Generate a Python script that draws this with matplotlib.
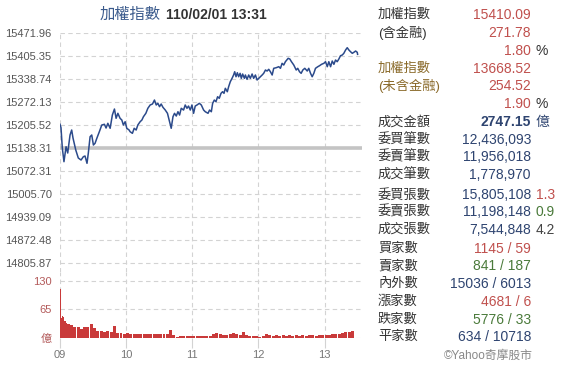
import matplotlib
matplotlib.use("Agg")
import matplotlib.pyplot as plt

plt.rcParams['font.family'] = ['Liberation Sans', 'Noto Sans CJK TC', 'DejaVu Sans']

# minutos desde las 09:00 y valor del índice
precio_t = [0, 0.9, 2.1, 3.6, 5.5, 7.0, 9.1, 10.6, 11.8, 14.3, 16.6, 19.1, 21.2, 22.7, 24.5, 25.7,
            27.3, 28.8, 30.3, 31.8, 33.4, 35.7, 37.9, 40.3, 41.8, 43.4, 45.5, 47.5, 49.4, 50.9,
            52.5, 54.5, 56.1, 57.5, 59.1, 60.6, 62.7, 63.6, 65.7, 67.3, 69.1, 70.6, 72.7, 74.3,
            75.7, 77.9, 79.7, 81.8, 83.9, 85.7, 87.3, 88.8, 90.3, 91.8, 93.4, 95.5, 97.5, 99.4,
            100.9, 102.5, 103.9, 105.5, 107.0, 108.5, 110.0, 112.1, 113.6, 115.2, 116.6, 118.2,
            119.7, 121.2, 122.7, 124.3, 126.4, 128.2, 130.3, 131.8, 134.3, 135.7, 137.3, 138.5,
            140.0, 141.5, 143.0, 144.5, 146.1, 147.5, 148.8, 150.0, 151.8, 153.0, 154.5, 156.1,
            157.5, 158.5, 159.7, 160.9, 162.1, 163.4, 164.5, 165.7, 167.3, 168.2, 169.7, 171.2,
            172.7, 174.3, 175.7, 177.3, 178.8, 180.3, 181.8, 183.4, 184.8, 186.4, 187.9, 189.4,
            190.9, 192.5, 193.9, 196.1, 198.5, 200.0, 201.5, 203.0, 204.5, 207.0, 208.5, 210.0,
            212.1, 214.3, 215.7, 217.3, 218.8, 220.3, 222.1, 224.3, 225.7, 227.3, 228.8, 230.3,
            231.8, 233.9, 235.5, 237.3, 239.4, 240.9, 242.5, 243.9, 245.5, 247.0, 248.5, 250.0,
            251.5, 253.0, 254.5, 256.1, 257.5, 259.1, 260.6, 262.1, 263.6, 265.2, 266.6, 268.2,
            269.7, 270]
precio_v = [15207.1, 15197.2, 15138.3, 15098.6, 15142.1, 15123.8, 15176.0, 15190.5, 15167.3,
            15132.5, 15109.3, 15103.5, 15113.1, 15115.1, 15093.9, 15123.8, 15171.1, 15176.0,
            15147.0, 15151.9, 15166.4, 15185.6, 15205.0, 15207.1, 15196.3, 15210.0, 15195.5,
            15234.0, 15251.4, 15224.5, 15239.0, 15224.5, 15219.5, 15205.0, 15214.6, 15195.5,
            15190.5, 15185.6, 15180.9, 15195.5, 15190.5, 15205.0, 15214.6, 15219.5, 15229.1,
            15239.0, 15253.5, 15263.1, 15266.0, 15277.5, 15263.1, 15268.0, 15258.1, 15266.0,
            15256.4, 15248.5, 15239.0, 15214.6, 15195.5, 15229.1, 15239.0, 15231.1, 15243.6,
            15234.0, 15253.5, 15248.5, 15263.1, 15253.5, 15260.1, 15248.5, 15263.1, 15239.0,
            15260.1, 15263.1, 15268.0, 15263.1, 15248.5, 15243.6, 15239.0, 15248.5, 15243.6,
            15268.0, 15277.5, 15272.6, 15287.1, 15282.5, 15297.0, 15301.6, 15297.0, 15311.5,
            15301.6, 15316.1, 15330.6, 15340.5, 15350.1, 15359.6, 15345.1, 15356.7, 15345.1,
            15355.0, 15340.5, 15353.0, 15340.5, 15350.1, 15337.6, 15350.1, 15340.5, 15353.0,
            15340.5, 15350.1, 15335.6, 15340.5, 15345.1, 15350.1, 15355.0, 15364.6, 15361.7,
            15366.6, 15359.6, 15350.1, 15369.5, 15371.2, 15374.2, 15369.5, 15384.0, 15379.1,
            15388.7, 15398.5, 15396.5, 15388.7, 15379.1, 15364.6, 15369.5, 15359.6, 15355.0,
            15364.6, 15369.5, 15361.7, 15369.5, 15355.0, 15345.1, 15355.0, 15369.5, 15374.2,
            15377.1, 15381.1, 15384.0, 15388.7, 15374.2, 15388.7, 15374.2, 15390.7, 15381.1,
            15393.6, 15388.7, 15396.5, 15406.1, 15408.1, 15413.0, 15422.6, 15429.3, 15422.6,
            15417.7, 15413.0, 15415.9, 15419.7, 15415.9, 15410.09]
cierre_anterior = 15138.31

y_ticks = [15471.96, 15405.35, 15338.74, 15272.13, 15205.52, 15138.31,
           15072.31, 15005.70, 14939.09, 14872.48, 14805.87]
y_labels = ['15471.96', '15405.35', '15338.74', '15272.13', '15205.52', '15138.31',
            '15072.31', '15005.70', '14939.09', '14872.48', '14805.87']

# volumen (億): primeros minutos, luego bloques de 3 minutos desde 09:06, y el cierre 13:30
vol_apertura = [112, 45, 50, 48, 38, 35]
vol_3min = [33, 30, 26, 24, 20, 26, 25, 32, 22, 16, 15, 14, 17, 14, 28, 12, 11, 10, 11, 9,
            10, 8, 9, 10, 9, 8, 10, 9, 8, 10, 8, 18, 6, 3, 4, 5, 4, 5, 4, 4, 5, 4, 5, 4,
            9, 11, 8, 6, 7, 10, 11, 8, 6, 14, 6, 5, 4, 4, 3, 5, 10, 6, 5, 7, 5, 6, 5, 6,
            5, 6, 5, 6, 5, 6, 6, 5, 6, 6, 6, 7, 8, 9, 10, 12, 13, 14, 15]
vol_cierre = 125

horas = [0, 60, 120, 180, 240]
horas_txt = ['09', '10', '11', '12', '13']

panel = [
    ('加權指數', '15410.09', '#c0504d', '', '', '#333333'),
    ('(含金融)', '271.78', '#c0504d', '', '', '#333333'),
    ('', '1.80', '#c0504d', '%', '#333333', '#333333'),
    ('加權指數', '13668.52', '#c0504d', '', '', '#8a6a2a'),
    ('(未含金融)', '254.52', '#c0504d', '', '', '#8a6a2a'),
    ('', '1.90', '#c0504d', '%', '#333333', '#333333'),
    ('成交金額', '2747.15', '#2e4470', '億', '#2e4470', '#333333'),
    ('委買筆數', '12,436,093', '#2e4470', '', '', '#333333'),
    ('委賣筆數', '11,956,018', '#2e4470', '', '', '#333333'),
    ('成交筆數', '1,778,970', '#2e4470', '', '', '#333333'),
    ('委買張數', '15,805,108', '#2e4470', '1.3', '#c0504d', '#333333'),
    ('委賣張數', '11,198,148', '#2e4470', '0.9', '#4a7a3a', '#333333'),
    ('成交張數', '7,544,848', '#2e4470', '4.2', '#444444', '#333333'),
    ('買家數', '1145 / 59', '#c0504d', '', '', '#333333'),
    ('賣家數', '841 / 187', '#4a7a3a', '', '', '#333333'),
    ('內外數', '15036 / 6013', '#2e4470', '', '', '#333333'),
    ('漲家數', '4681 / 6', '#c0504d', '', '', '#333333'),
    ('跌家數', '5776 / 33', '#4a7a3a', '', '', '#333333'),
    ('平家數', '634 / 10718', '#2e4470', '', '', '#333333'),
]
filas_y = [15, 33, 51, 69, 86, 104, 122, 140, 157, 175, 195, 212, 230, 249, 266, 284, 302, 320, 337]

W, H = 564, 377
fig = plt.figure(figsize=(W / 100, H / 100), dpi=100)


def px(x, y):
    return x / W, 1 - y / H


GRIS = '#d3d3d3'
DASH = (0, (4, 3))

# panel principal
ax = fig.add_axes([60 / W, 1 - 272 / H, 302 / W, 239 / H])
ax.set_xlim(0, 274)
ax.set_ylim(14778.6, 15471.96)
for v in y_ticks:
    ax.axhline(v, color=GRIS, lw=0.8, ls=DASH, zorder=0)
for h in horas:
    ax.axvline(h, color=GRIS, lw=0.8, ls=DASH, zorder=0)
ax.axhline(cierre_anterior, color='#c4c4c4', lw=2.6, zorder=1)
ax.plot(precio_t, precio_v, color='#2b4a8b', lw=1.1, zorder=2)
ax.set_yticks(y_ticks)
ax.set_yticklabels(y_labels)
ax.tick_params(axis='y', length=0, pad=6, labelsize=8, labelcolor='#555555')
ax.set_xticks([])
for s in ax.spines.values():
    s.set_visible(False)

# volumen
axv = fig.add_axes([60 / W, 1 - 338 / H, 302 / W, 66 / H])
axv.set_xlim(0, 274)
axv.set_ylim(0, 150.5)
for v in [0, 65, 130]:
    axv.axhline(v, color=GRIS, lw=0.8, ls=DASH, zorder=0)
for h in horas:
    axv.axvline(h, color=GRIS, lw=0.8, ls=DASH, zorder=0)
rojo = '#c93a3a'
axv.bar(range(len(vol_apertura)), vol_apertura, width=1.0, align='edge', color=rojo, lw=0, zorder=2)
t3 = [6 + 3 * i for i in range(len(vol_3min))]
axv.bar(t3, vol_3min, width=2.7, align='edge', color=rojo, lw=0, zorder=2)
axv.bar([270], [vol_cierre], width=0.8, align='edge', color='#a03a3a', lw=0, zorder=2)
axv.set_yticks([0, 65, 130])
axv.set_yticklabels(['億', '65', '130'])
axv.tick_params(axis='y', length=0, pad=6, labelsize=8, labelcolor='#b35a5a')
axv.set_xticks(horas)
axv.set_xticklabels(horas_txt)
axv.tick_params(axis='x', length=7, width=0.8, color=GRIS, pad=2, labelsize=8, labelcolor='#777777')
for s in axv.spines.values():
    s.set_visible(False)

# título
fig.text(*px(161, 15), '加權指數', ha='right', va='center', fontsize=11, color='#3a5a8c')
fig.text(*px(166, 15), '110/02/01 13:31', ha='left', va='center', fontsize=10,
         fontweight='bold', color='#333333')

# panel derecho
for (lab, val, cval, suf, csuf, clab), y in zip(panel, filas_y):
    if lab:
        fig.text(*px(378, y), lab, ha='left', va='center', fontsize=9.5, color=clab)
    peso = 'bold' if lab == '成交金額' else 'normal'
    fig.text(*px(531, y), val, ha='right', va='center', fontsize=10, color=cval, fontweight=peso)
    if suf:
        fig.text(*px(536, y), suf, ha='left', va='center', fontsize=10, color=csuf)

fig.text(*px(533, 356), '©Yahoo奇摩股市', ha='right', va='center', fontsize=8.5, color='#888888')

fig.savefig('out.png', dpi=100)
